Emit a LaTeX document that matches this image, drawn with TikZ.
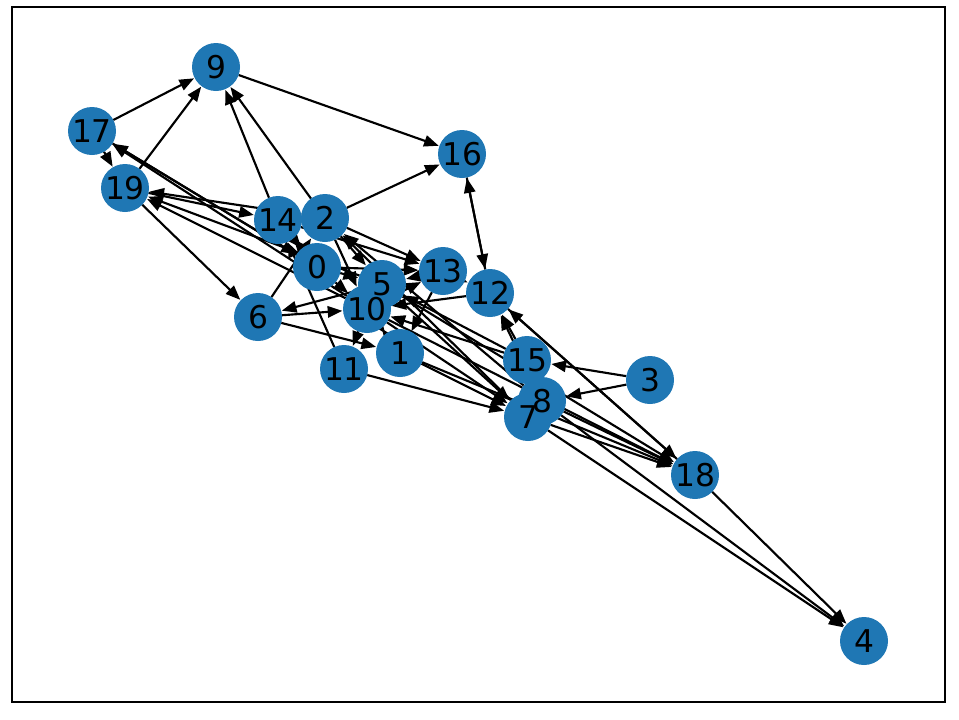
\documentclass[tikz,border=0pt]{standalone}
\usepackage{fontspec}
\setmainfont{DejaVu Sans}
\usetikzlibrary{arrows.meta,backgrounds}
\definecolor{nodeblue}{HTML}{1F77B4}
\begin{document}
\begin{tikzpicture}[x=0.75pt,y=-0.75pt,
  vert/.style={circle,fill=nodeblue,minimum size=36pt,inner sep=0pt,outer sep=0pt},
  lab/.style={inner sep=0pt,font=\fontsize{23.5}{23.5}\selectfont},
  edge/.style={line width=1.6pt,-{Triangle[length=11pt,width=8.5pt]},shorten >=0.5pt}]
\useasboundingbox (0,0) rectangle (959,719);
\draw[line width=1.9pt] (12,7) rectangle (945,702);
\foreach \n/\x/\y in {0/317/267,1/400/353,2/325/218,3/650/380,4/864/641,5/382/284,6/258/317,7/528/417,8/542/401,9/216/67,10/367/309,11/344/369,12/490/293,13/443/271,14/278/220,15/527/360,16/462/154,17/92/131,18/695/475,19/125/188}
  \node[vert] (n\n) at (\x,\y) {};
\foreach \n/\x/\y in {0/317/267,1/400/353,2/325/218,3/650/380,4/864/641,5/382/284,6/258/317,7/528/417,8/542/401,9/216/67,10/367/309,11/344/369,12/490/293,13/443/271,14/278/220,15/527/360,16/462/154,17/92/131,18/695/475,19/125/188}
  \node[lab] (t\n) at (\x,\y) {\n};
\begin{scope}[on background layer]
\foreach \a/\b in {17/9,19/9,14/9,2/9,9/16,2/16,17/19,19/14,2/19,5/19,10/19,19/6,17/0,0/17,10/17,
  6/10,5/6,6/1,6/2,11/14,10/11,11/7,3/15,3/8,15/12,8/12,12/18,18/12,12/16,16/12,13/1,12/10,
  2/13,14/13,0/13,13/5,2/5,2/10,7/2,8/2,0/14,8/18,7/18,5/18,10/18,1/18,7/4,8/4,18/4,
  1/10,15/10,15/5,1/7,10/7,5/7,0/10,0/5,14/0,10/1,10/13,13/12}
  \draw[edge] (n\a) -- (n\b);
\end{scope}
\end{tikzpicture}
\end{document}
